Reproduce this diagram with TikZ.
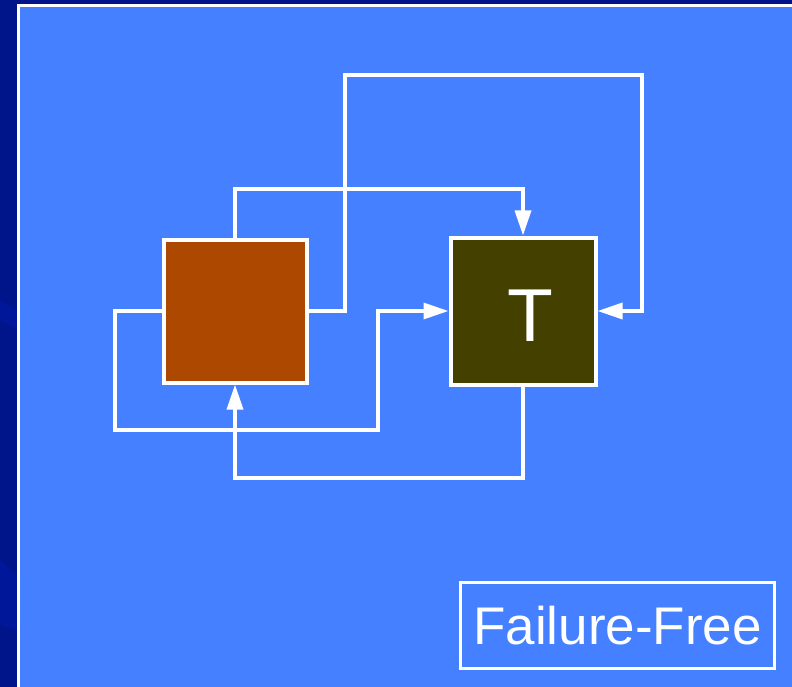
\documentclass[tikz,border=0pt]{standalone}
\usepackage{fontspec}
\setmainfont{Liberation Sans}
\usetikzlibrary{arrows.meta}
\definecolor{navy}{HTML}{00158A}
\definecolor{navylight}{HTML}{00179A}
\definecolor{panel}{HTML}{4480FF}
\definecolor{rust}{HTML}{AC4800}
\definecolor{olive}{HTML}{434000}
\tikzset{
  box/.style={draw=white, line width=4pt, minimum width=143pt, minimum height=143pt, inner sep=0pt},
  conn/.style={draw=white, line width=3.4pt},
  arr/.style={conn, -{Triangle[length=25pt,width=16pt]}},
  tag/.style={draw=white, line width=3pt, text=white, inner sep=0pt, minimum width=314pt, minimum height=86pt, font=\fontsize{53}{53}\selectfont}
}
\begin{document}
\begin{tikzpicture}[x=1pt,y=-1pt]
\useasboundingbox (0,0) rectangle (792,687);
% background
\fill[navy] (0,0) rectangle (792,687);
\fill[navylight] (0,560) -- (17,575) -- (17,630) -- (0,625) -- cycle;
\fill[navylight] (0,300) -- (17,310) -- (17,330) -- (0,320) -- cycle;
% panel
\filldraw[fill=panel, draw=white, line width=3pt] (18.5,5.5) rectangle (800,700);
% boxes
\node[box, fill=rust] (A) at (235,311) {};
\node[box, fill=olive, minimum width=145pt, minimum height=147pt] (T) at (523,311) {};
\node[text=white, font=\fontsize{75}{75}\selectfont, inner sep=0pt] (Tl) at (530,316) {T};
% connector coordinates
\coordinate (c1) at (523,189);
\coordinate (c2) at (345,311);
\coordinate (c3) at (642,75);
\coordinate (c4) at (115,430);
\coordinate (c5) at (378,311);
\coordinate (c6) at (235,478);
% connectors
\draw[arr] (A.north) |- (c1) -- (T.north);
\draw[arr] (A.east) -- (c2) |- (c3) |- (T.east);
\draw[arr] (A.west) -| (c4) -| (c5) -- (T.west);
\draw[arr] (T.south) |- (c6) -- (A.south);
% tag
\node[tag] (F) at (617.5,625.5) {Failure-Free};
\end{tikzpicture}
\end{document}
